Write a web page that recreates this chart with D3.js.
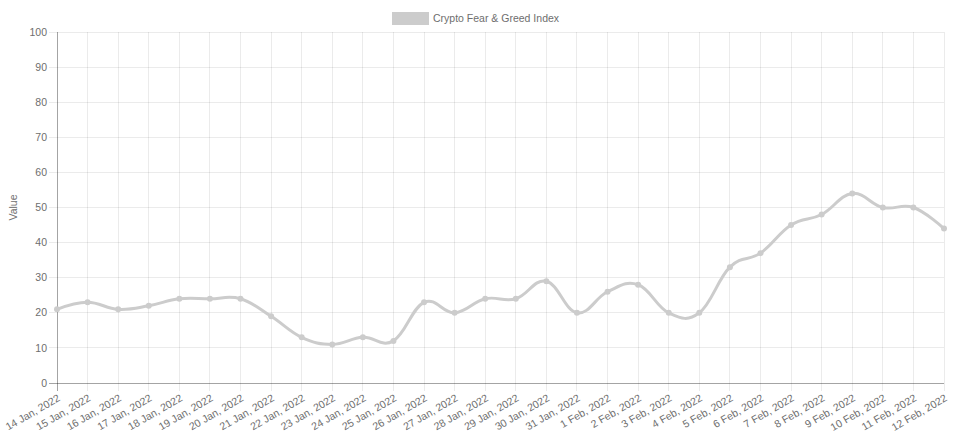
<!DOCTYPE html>
<html>
<head>
<meta charset="utf-8">
<script src="https://cdn.jsdelivr.net/npm/d3@7"></script>
<style>
  html, body { margin: 0; padding: 0; background: #fff; }
  svg { display: block; font-family: "Liberation Sans", Arial, Helvetica, sans-serif; }
</style>
</head>
<body>
<div id="container"></div>
<script>
width = 959;
height = 442;

// data
const dates = ["14 Jan, 2022", "15 Jan, 2022", "16 Jan, 2022", "17 Jan, 2022", "18 Jan, 2022",
    "19 Jan, 2022", "20 Jan, 2022", "21 Jan, 2022", "22 Jan, 2022", "23 Jan, 2022",
    "24 Jan, 2022", "25 Jan, 2022", "26 Jan, 2022", "27 Jan, 2022", "28 Jan, 2022",
    "29 Jan, 2022", "30 Jan, 2022", "31 Jan, 2022", "1 Feb, 2022", "2 Feb, 2022",
    "3 Feb, 2022", "4 Feb, 2022", "5 Feb, 2022", "6 Feb, 2022", "7 Feb, 2022",
    "8 Feb, 2022", "9 Feb, 2022", "10 Feb, 2022", "11 Feb, 2022", "12 Feb, 2022"];
const values = [21, 23, 21, 22, 24, 24, 24, 19, 13, 11,
    13, 12, 23, 20, 24, 24, 29, 20, 26, 28,
    20, 20, 33, 37, 45, 48, 54, 50, 50, 44];
const yTicks = [0, 10, 20, 30, 40, 50, 60, 70, 80, 90, 100];
const seriesName = "Crypto Fear & Greed Index";
const yTitle = "Value";

const margin = {top: 32, right: 15, bottom: 59, left: 57};
const lineColor = "rgb(204,204,204)";
const textColor = "#6e6e6e";
const gridColor = "rgba(0,0,0,0.08)";

const svg = d3.select("#container").append("svg")
    .attr("width", width)
    .attr("height", height);

const x = d3.scalePoint()
    .domain(dates)
    .range([margin.left, width - margin.right]);

const y = d3.scaleLinear()
    .domain([0, 100])
    .range([height - margin.bottom, margin.top]);

// grid
const grid = svg.append("g");
grid.selectAll("line.v")
    .data(dates)
    .enter().append("line")
    .attr("x1", d => x(d)).attr("x2", d => x(d))
    .attr("y1", y(100)).attr("y2", y(0) + 8)
    .attr("stroke", gridColor)
    .attr("shape-rendering", "crispEdges");
grid.selectAll("line.h")
    .data(yTicks)
    .enter().append("line")
    .attr("x1", margin.left - 8).attr("x2", width - margin.right)
    .attr("y1", d => y(d)).attr("y2", d => y(d))
    .attr("stroke", gridColor)
    .attr("shape-rendering", "crispEdges");

// axis lines
svg.append("line")
    .attr("x1", margin.left).attr("x2", margin.left)
    .attr("y1", y(100)).attr("y2", y(0) + 8)
    .attr("stroke", "rgba(0,0,0,0.3)")
    .attr("shape-rendering", "crispEdges");
svg.append("line")
    .attr("x1", margin.left - 8).attr("x2", width - margin.right)
    .attr("y1", y(0)).attr("y2", y(0))
    .attr("stroke", "rgba(0,0,0,0.3)")
    .attr("shape-rendering", "crispEdges");

// y tick labels
svg.append("g")
    .selectAll("text")
    .data(yTicks)
    .enter().append("text")
    .attr("x", margin.left - 10)
    .attr("y", d => y(d))
    .attr("dy", "0.35em")
    .attr("text-anchor", "end")
    .attr("fill", textColor)
    .style("font-size", "10.5px")
    .text(d => d);

// x tick labels, rotated
svg.append("g")
    .selectAll("text")
    .data(dates)
    .enter().append("text")
    .attr("transform", d => `translate(${x(d) + 2},${y(0) + 14}) rotate(-30)`)
    .attr("text-anchor", "end")
    .attr("dy", "0.35em")
    .attr("fill", textColor)
    .style("font-size", "10.5px")
    .text(d => d);

// y title
svg.append("text")
    .attr("transform", `translate(17,${(y(0) + y(100)) / 2}) rotate(-90)`)
    .attr("text-anchor", "middle")
    .attr("fill", textColor)
    .style("font-size", "10.5px")
    .text(yTitle);

// legend
const legend = svg.append("g");
legend.append("rect")
    .attr("x", 392.5).attr("y", 12.5)
    .attr("width", 36).attr("height", 12)
    .attr("fill", lineColor)
    .attr("stroke", lineColor);
legend.append("text")
    .attr("x", 433)
    .attr("y", 18.5)
    .attr("dy", "0.35em")
    .attr("fill", textColor)
    .style("font-size", "10.5px")
    .text(seriesName);

// line, approximating a bezier with tension 0.4
const line = d3.line()
    .x((d, i) => x(dates[i]))
    .y(d => y(d))
    .curve(d3.curveCardinal.tension(-0.2));

svg.append("path")
    .datum(values)
    .attr("fill", "none")
    .attr("stroke", lineColor)
    .attr("stroke-width", 3)
    .attr("d", line);

svg.append("g")
    .selectAll("circle")
    .data(values)
    .enter().append("circle")
    .attr("cx", (d, i) => x(dates[i]))
    .attr("cy", d => y(d))
    .attr("r", 3)
    .attr("fill", lineColor);
</script>
</body>
</html>
